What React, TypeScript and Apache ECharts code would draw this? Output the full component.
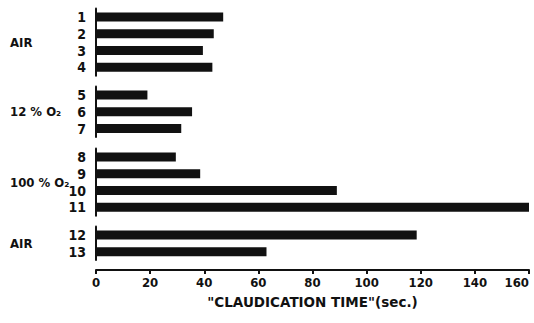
import React, { useEffect, useRef } from "react";
import * as echarts from "echarts";

const groupNames = ["AIR", "12 % O₂", "100 % O₂", "AIR"];
const groupSubjects = [
  ["1", "2", "3", "4"],
  ["5", "6", "7"],
  ["8", "9", "10", "11"],
  ["12", "13"],
];
const groupValues = [
  [47, 43.5, 39.5, 43],
  [19, 35.5, 31.5],
  [29.5, 38.5, 89, 160],
  [118.5, 63],
];
const xTicks = [0, 20, 40, 60, 80, 100, 120, 140, 160];

const FONT = "'DejaVu Sans Condensed', 'DejaVu Sans', sans-serif";

export default function App() {
  const ref = useRef<HTMLDivElement>(null);
  useEffect(() => {
    document.body.style.margin = "0";
    const chart = echarts.init(ref.current!, null, { renderer: "svg" });
    const step = 16.8;
    const tops = [8.5, 86.5, 148.5, 226.5];
    const grids = groupSubjects.map((g, i) => ({
      left: 96,
      right: 5,
      top: tops[i],
      height: g.length * step,
      containLabel: false,
      outerBoundsMode: "none",
    }));
    const last = groupSubjects.length - 1;
    const xAxes = groupSubjects.map((_, i) => ({
      type: "value",
      gridIndex: i,
      min: xTicks[0],
      max: xTicks[xTicks.length - 1],
      interval: 20,
      show: i === last,
      offset: 10,
      splitLine: { show: false },
      axisLine: { show: true, lineStyle: { color: "#111", width: 2 } },
      axisTick: { show: true, length: 4, lineStyle: { color: "#111", width: 2 } },
      axisLabel: {
        color: "#111",
        fontFamily: FONT,
        fontWeight: "bold",
        fontSize: 13,
        margin: 6,
        alignMaxLabel: "right",
      },
      name: i === last ? '"CLAUDICATION TIME"(sec.)' : "",
      nameLocation: "middle",
      nameGap: 25,
      nameTextStyle: {
        color: "#111",
        fontFamily: "'DejaVu Sans', sans-serif",
        fontWeight: "bold",
        fontSize: 13.5,
      },
    }));
    const yAxes = groupSubjects.map((g, i) => ({
      type: "category",
      gridIndex: i,
      data: g,
      inverse: true,
      axisLine: { show: true, lineStyle: { color: "#111", width: 2 } },
      axisTick: { show: false },
      axisLabel: {
        interval: 0,
        color: "#111",
        fontFamily: FONT,
        fontWeight: "bold",
        fontSize: 14,
        margin: 10,
      },
      name: groupNames[i],
      nameLocation: "middle",
      nameRotate: 0,
      nameGap: 86,
      nameMoveOverlap: false,
      nameTextStyle: {
        color: "#111",
        fontFamily: FONT,
        fontWeight: "bold",
        fontSize: 13,
        align: "left",
      },
    }));
    const series = groupValues.map((vals, i) => ({
      type: "bar",
      xAxisIndex: i,
      yAxisIndex: i,
      data: vals,
      barWidth: 9,
      itemStyle: { color: "#111" },
    }));
    chart.setOption({
      animation: false,
      backgroundColor: "#fff",
      grid: grids,
      xAxis: xAxes,
      yAxis: yAxes,
      series,
    });
    return () => chart.dispose();
  }, []);
  return <div ref={ref} style={{ width: 534, height: 323 }} />;
}
